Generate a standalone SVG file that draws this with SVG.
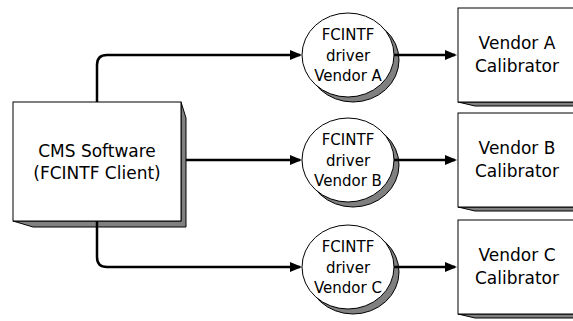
<svg xmlns="http://www.w3.org/2000/svg" width="573" height="321" viewBox="0 0 573 321">
<style>
  .face { fill: #ffffff; stroke: #000000; stroke-width: 1; }
  .shadow { fill: #808080; stroke: #000000; stroke-width: 1; }
  .conn { fill: none; stroke: #000000; stroke-width: 2.5; marker-end: url(#arrow); }
  text { font-family: "DejaVu Sans", Verdana, sans-serif; fill: #000000; text-anchor: middle; }
  .big { font-size: 17px; }
  .small { font-size: 15px; }
</style>
<defs>
  <marker id="arrow" markerUnits="userSpaceOnUse" markerWidth="12" markerHeight="10" refX="10" refY="5" orient="auto">
    <path d="M0,0 L12,5 L0,10 z" fill="#000000"/>
  </marker>
</defs>
<rect x="0" y="0" width="573" height="321" fill="#ffffff"/>

<g id="cms">
  <polygon class="shadow" points="181,102 186,118 186,227 33,227 13,221 181,221"/>
  <rect class="face" x="13" y="102" width="168" height="119"/>
  <text class="big" x="97" y="157">CMS Software</text>
  <text class="big" x="97" y="179">(FCINTF Client)</text>
</g>

<g id="driverA">
  <ellipse class="shadow" cx="353" cy="60" rx="46" ry="42"/>
  <ellipse class="face" cx="348" cy="55" rx="46" ry="42"/>
  <text class="small" x="348" y="40">FCINTF</text>
  <text class="small" x="348" y="61">driver</text>
  <text class="small" x="348" y="81">Vendor A</text>
</g>
<g id="driverB">
  <ellipse class="shadow" cx="353" cy="165" rx="46" ry="42"/>
  <ellipse class="face" cx="348" cy="160" rx="46" ry="42"/>
  <text class="small" x="348" y="145">FCINTF</text>
  <text class="small" x="348" y="166">driver</text>
  <text class="small" x="348" y="186">Vendor B</text>
</g>
<g id="driverC">
  <ellipse class="shadow" cx="353" cy="272" rx="46" ry="42"/>
  <ellipse class="face" cx="348" cy="267" rx="46" ry="42"/>
  <text class="small" x="348" y="252">FCINTF</text>
  <text class="small" x="348" y="273">driver</text>
  <text class="small" x="348" y="293">Vendor C</text>
</g>

<g id="calA">
  <polygon class="shadow" points="458,102 475,106 580,106 580,102"/>
  <rect class="face" x="458" y="8" width="125" height="94"/>
  <text class="big" x="517" y="49">Vendor A</text>
  <text class="big" x="517" y="72">Calibrator</text>
</g>
<g id="calB">
  <polygon class="shadow" points="458,207 475,211 580,211 580,207"/>
  <rect class="face" x="458" y="113" width="125" height="94"/>
  <text class="big" x="517" y="154">Vendor B</text>
  <text class="big" x="517" y="177">Calibrator</text>
</g>
<g id="calC">
  <polygon class="shadow" points="458,314 475,318 580,318 580,314"/>
  <rect class="face" x="458" y="220" width="125" height="94"/>
  <text class="big" x="517" y="261">Vendor C</text>
  <text class="big" x="517" y="284">Calibrator</text>
</g>

<g id="connectors">
  <path class="conn" d="M97,102 V65 Q97,55 107,55 H300"/>
  <path class="conn" d="M186,160 H300"/>
  <path class="conn" d="M97,221 V257 Q97,267 107,267 H300"/>
  <path class="conn" d="M394,55 H455"/>
  <path class="conn" d="M394,160 H455"/>
  <path class="conn" d="M394,267 H455"/>
</g>
</svg>
